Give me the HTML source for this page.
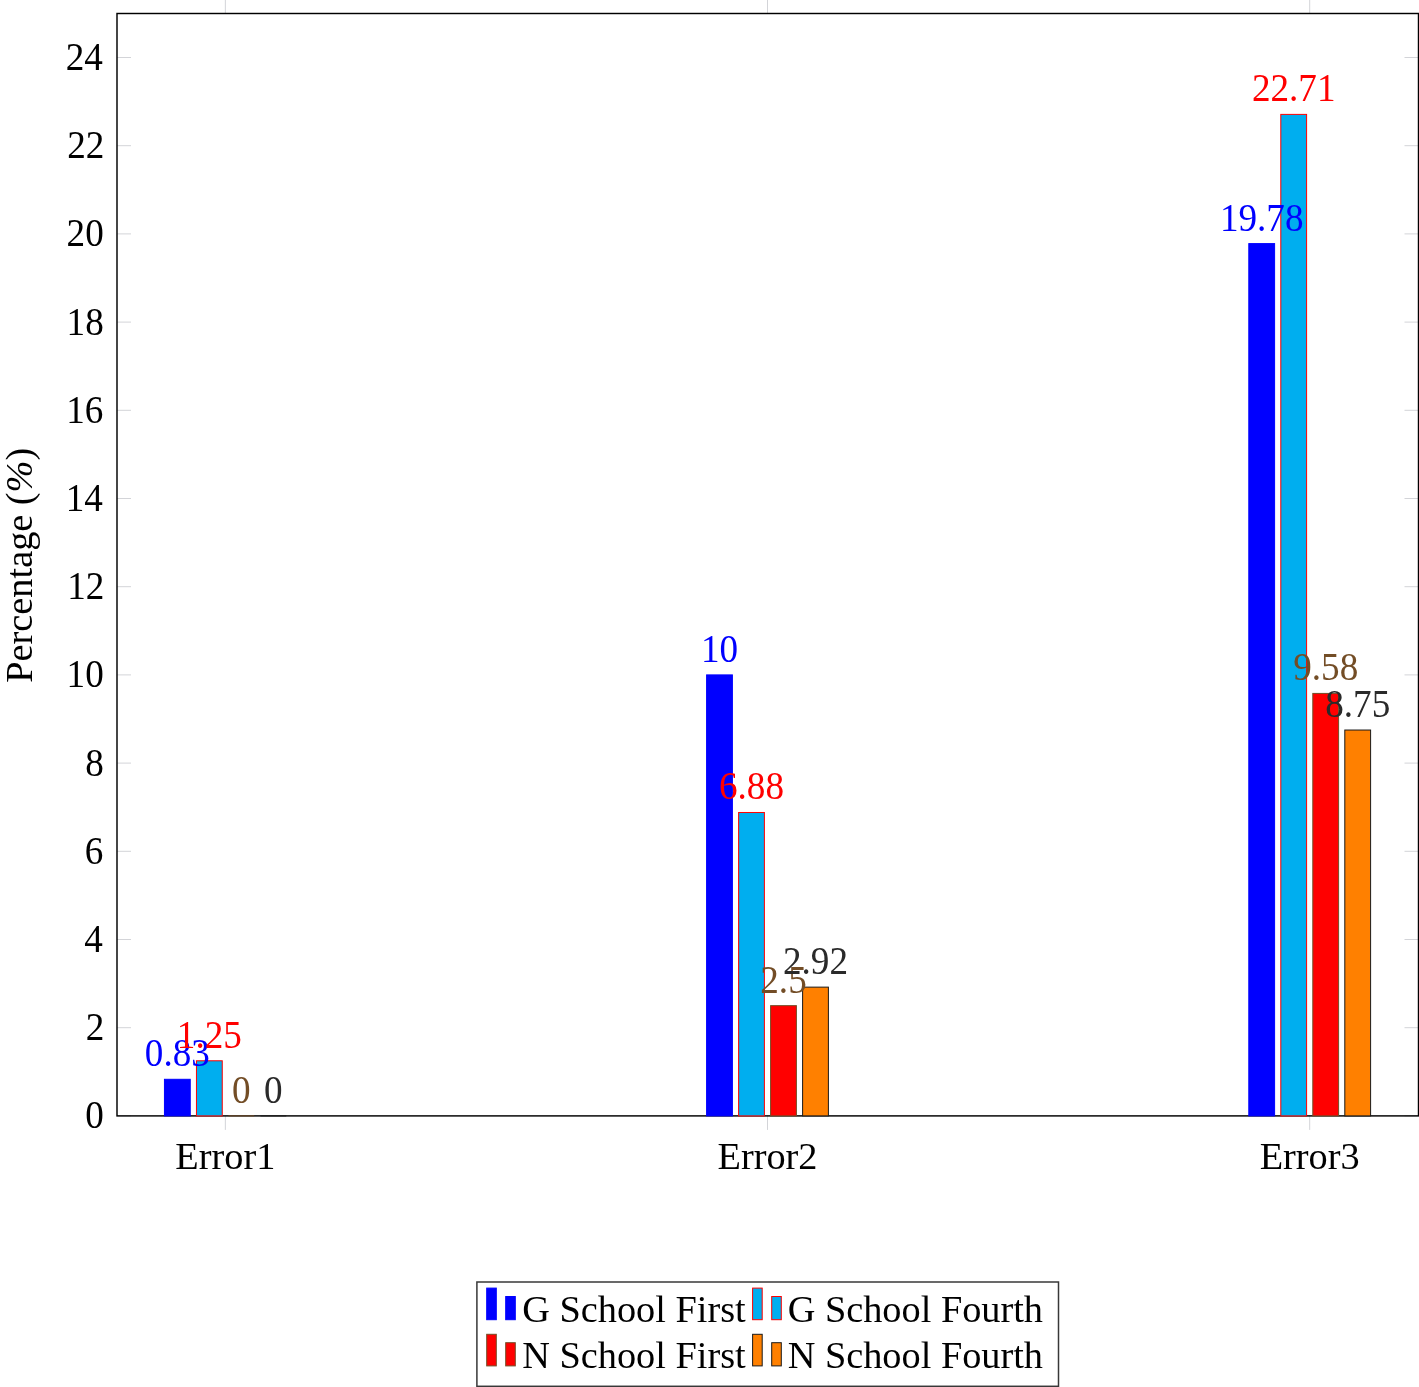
<!DOCTYPE html><html><head><meta charset="utf-8"><style>
html,body{margin:0;padding:0;background:#fff;}
svg{display:block;will-change:transform;}
text{font-family:"Liberation Serif",serif;}
.n{font-size:38.50px;}
.t{font-size:38.30px;}
</style></head><body>
<svg width="1419" height="1387" viewBox="0 0 1419 1387">
<rect width="1419" height="1387" fill="#fff"/>
<line x1="117.00" y1="1115.90" x2="131.00" y2="1115.90" stroke="#d3d4d8" stroke-width="1"/>
<line x1="1404.50" y1="1115.90" x2="1418.50" y2="1115.90" stroke="#d3d4d8" stroke-width="1"/>
<line x1="117.00" y1="1027.70" x2="131.00" y2="1027.70" stroke="#d3d4d8" stroke-width="1"/>
<line x1="1404.50" y1="1027.70" x2="1418.50" y2="1027.70" stroke="#d3d4d8" stroke-width="1"/>
<line x1="117.00" y1="939.50" x2="131.00" y2="939.50" stroke="#d3d4d8" stroke-width="1"/>
<line x1="1404.50" y1="939.50" x2="1418.50" y2="939.50" stroke="#d3d4d8" stroke-width="1"/>
<line x1="117.00" y1="851.30" x2="131.00" y2="851.30" stroke="#d3d4d8" stroke-width="1"/>
<line x1="1404.50" y1="851.30" x2="1418.50" y2="851.30" stroke="#d3d4d8" stroke-width="1"/>
<line x1="117.00" y1="763.10" x2="131.00" y2="763.10" stroke="#d3d4d8" stroke-width="1"/>
<line x1="1404.50" y1="763.10" x2="1418.50" y2="763.10" stroke="#d3d4d8" stroke-width="1"/>
<line x1="117.00" y1="674.90" x2="131.00" y2="674.90" stroke="#d3d4d8" stroke-width="1"/>
<line x1="1404.50" y1="674.90" x2="1418.50" y2="674.90" stroke="#d3d4d8" stroke-width="1"/>
<line x1="117.00" y1="586.70" x2="131.00" y2="586.70" stroke="#d3d4d8" stroke-width="1"/>
<line x1="1404.50" y1="586.70" x2="1418.50" y2="586.70" stroke="#d3d4d8" stroke-width="1"/>
<line x1="117.00" y1="498.50" x2="131.00" y2="498.50" stroke="#d3d4d8" stroke-width="1"/>
<line x1="1404.50" y1="498.50" x2="1418.50" y2="498.50" stroke="#d3d4d8" stroke-width="1"/>
<line x1="117.00" y1="410.30" x2="131.00" y2="410.30" stroke="#d3d4d8" stroke-width="1"/>
<line x1="1404.50" y1="410.30" x2="1418.50" y2="410.30" stroke="#d3d4d8" stroke-width="1"/>
<line x1="117.00" y1="322.10" x2="131.00" y2="322.10" stroke="#d3d4d8" stroke-width="1"/>
<line x1="1404.50" y1="322.10" x2="1418.50" y2="322.10" stroke="#d3d4d8" stroke-width="1"/>
<line x1="117.00" y1="233.90" x2="131.00" y2="233.90" stroke="#d3d4d8" stroke-width="1"/>
<line x1="1404.50" y1="233.90" x2="1418.50" y2="233.90" stroke="#d3d4d8" stroke-width="1"/>
<line x1="117.00" y1="145.70" x2="131.00" y2="145.70" stroke="#d3d4d8" stroke-width="1"/>
<line x1="1404.50" y1="145.70" x2="1418.50" y2="145.70" stroke="#d3d4d8" stroke-width="1"/>
<line x1="117.00" y1="57.50" x2="131.00" y2="57.50" stroke="#d3d4d8" stroke-width="1"/>
<line x1="1404.50" y1="57.50" x2="1418.50" y2="57.50" stroke="#d3d4d8" stroke-width="1"/>
<line x1="225.35" y1="0.00" x2="225.35" y2="13.50" stroke="#d3d4d8" stroke-width="1"/>
<line x1="225.35" y1="1115.90" x2="225.35" y2="1129.90" stroke="#d3d4d8" stroke-width="1"/>
<line x1="767.50" y1="0.00" x2="767.50" y2="13.50" stroke="#d3d4d8" stroke-width="1"/>
<line x1="767.50" y1="1115.90" x2="767.50" y2="1129.90" stroke="#d3d4d8" stroke-width="1"/>
<line x1="1309.70" y1="0.00" x2="1309.70" y2="13.50" stroke="#d3d4d8" stroke-width="1"/>
<line x1="1309.70" y1="1115.90" x2="1309.70" y2="1129.90" stroke="#d3d4d8" stroke-width="1"/>
<rect x="117.00" y="13.50" width="1301.50" height="1102.40" fill="none" stroke="#000" stroke-width="1.45"/>
<rect x="164.45" y="1079.30" width="25.80" height="36.60" fill="#0000ff" stroke="#0000ff" stroke-width="1.0"/>
<rect x="196.45" y="1060.78" width="25.80" height="55.12" fill="#00aeef" stroke="#ff0000" stroke-width="1.0"/>
<line x1="228.45" y1="1115.90" x2="254.25" y2="1115.90" stroke="#734d26" stroke-width="1"/>
<line x1="260.45" y1="1115.90" x2="286.25" y2="1115.90" stroke="#1a1a1a" stroke-width="1"/>
<rect x="706.60" y="674.90" width="25.80" height="441.00" fill="#0000ff" stroke="#0000ff" stroke-width="1.0"/>
<rect x="738.60" y="812.49" width="25.80" height="303.41" fill="#00aeef" stroke="#ff0000" stroke-width="1.0"/>
<rect x="770.60" y="1005.65" width="25.80" height="110.25" fill="#ff0000" stroke="#734d26" stroke-width="1.0"/>
<rect x="802.60" y="987.13" width="25.80" height="128.77" fill="#ff8000" stroke="#1a1a1a" stroke-width="1.0"/>
<rect x="1248.80" y="243.60" width="25.80" height="872.30" fill="#0000ff" stroke="#0000ff" stroke-width="1.0"/>
<rect x="1280.80" y="114.39" width="25.80" height="1001.51" fill="#00aeef" stroke="#ff0000" stroke-width="1.0"/>
<rect x="1312.80" y="693.42" width="25.80" height="422.48" fill="#ff0000" stroke="#734d26" stroke-width="1.0"/>
<rect x="1344.80" y="730.03" width="25.80" height="385.88" fill="#ff8000" stroke="#1a1a1a" stroke-width="1.0"/>
<text class="n" transform="translate(177.35,1066.20) scale(0.965,1.035)" text-anchor="middle" fill="#0000ff">0.83</text>
<text class="n" transform="translate(209.35,1047.68) scale(0.965,1.035)" text-anchor="middle" fill="#ff0000">1.25</text>
<text class="n" transform="translate(241.35,1102.80) scale(0.965,1.035)" text-anchor="middle" fill="#734d26">0</text>
<text class="n" transform="translate(273.35,1102.80) scale(0.965,1.035)" text-anchor="middle" fill="#2a2a2a">0</text>
<text class="n" transform="translate(719.50,661.80) scale(0.965,1.035)" text-anchor="middle" fill="#0000ff">10</text>
<text class="n" transform="translate(751.50,799.39) scale(0.965,1.035)" text-anchor="middle" fill="#ff0000">6.88</text>
<text class="n" transform="translate(783.50,992.55) scale(0.965,1.035)" text-anchor="middle" fill="#734d26">2.5</text>
<text class="n" transform="translate(815.50,974.03) scale(0.965,1.035)" text-anchor="middle" fill="#2a2a2a">2.92</text>
<text class="n" transform="translate(1261.70,230.50) scale(0.965,1.035)" text-anchor="middle" fill="#0000ff">19.78</text>
<text class="n" transform="translate(1293.70,101.29) scale(0.965,1.035)" text-anchor="middle" fill="#ff0000">22.71</text>
<text class="n" transform="translate(1325.70,680.32) scale(0.965,1.035)" text-anchor="middle" fill="#734d26">9.58</text>
<text class="n" transform="translate(1357.70,716.93) scale(0.965,1.035)" text-anchor="middle" fill="#2a2a2a">8.75</text>
<text class="n" transform="translate(103.71,1128.40) scale(0.965,1.035)" text-anchor="end" fill="#000">0</text>
<text class="n" transform="translate(104.34,1040.20) scale(0.965,1.035)" text-anchor="end" fill="#000">2</text>
<text class="n" transform="translate(102.89,952.00) scale(0.965,1.035)" text-anchor="end" fill="#000">4</text>
<text class="n" transform="translate(103.41,863.80) scale(0.965,1.035)" text-anchor="end" fill="#000">6</text>
<text class="n" transform="translate(103.71,775.60) scale(0.965,1.035)" text-anchor="end" fill="#000">8</text>
<text class="n" transform="translate(103.71,687.40) scale(0.965,1.035)" text-anchor="end" fill="#000">10</text>
<text class="n" transform="translate(104.34,599.20) scale(0.965,1.035)" text-anchor="end" fill="#000">12</text>
<text class="n" transform="translate(102.89,511.00) scale(0.965,1.035)" text-anchor="end" fill="#000">14</text>
<text class="n" transform="translate(103.41,422.80) scale(0.965,1.035)" text-anchor="end" fill="#000">16</text>
<text class="n" transform="translate(103.71,334.60) scale(0.965,1.035)" text-anchor="end" fill="#000">18</text>
<text class="n" transform="translate(103.71,246.40) scale(0.965,1.035)" text-anchor="end" fill="#000">20</text>
<text class="n" transform="translate(104.34,158.20) scale(0.965,1.035)" text-anchor="end" fill="#000">22</text>
<text class="n" transform="translate(102.89,70.00) scale(0.965,1.035)" text-anchor="end" fill="#000">24</text>
<text class="t" x="225.35" y="1169.20" text-anchor="middle" fill="#000">Error1</text>
<text class="t" x="767.50" y="1169.20" text-anchor="middle" fill="#000">Error2</text>
<text class="t" x="1309.70" y="1169.20" text-anchor="middle" fill="#000">Error3</text>
<text class="t" transform="translate(32.3,565.2) rotate(-90)" text-anchor="middle" fill="#000">Percentage (<tspan font-style="italic">%</tspan>)</text>
<rect x="476.90" y="1282.00" width="581.60" height="104.30" fill="#fff" stroke="#383838" stroke-width="1.5"/>
<rect x="486.70" y="1288.10" width="9.60" height="31.60" fill="#0000ff" stroke="#0000ff" stroke-width="1"/>
<rect x="505.70" y="1296.50" width="9.60" height="23.20" fill="#0000ff" stroke="#0000ff" stroke-width="1"/>
<text class="t" x="522.30" y="1322.00" fill="#000">G School First</text>
<rect x="752.60" y="1288.10" width="9.60" height="31.60" fill="#00aeef" stroke="#ff0000" stroke-width="1"/>
<rect x="771.70" y="1296.50" width="9.60" height="23.20" fill="#00aeef" stroke="#ff0000" stroke-width="1"/>
<text class="t" x="787.70" y="1322.00" fill="#000">G School Fourth</text>
<rect x="486.70" y="1334.30" width="9.60" height="31.60" fill="#ff0000" stroke="#734d26" stroke-width="1"/>
<rect x="505.70" y="1342.70" width="9.60" height="23.20" fill="#ff0000" stroke="#734d26" stroke-width="1"/>
<text class="t" x="522.30" y="1368.20" fill="#000">N School First</text>
<rect x="752.60" y="1334.30" width="9.60" height="31.60" fill="#ff8000" stroke="#1a1a1a" stroke-width="1"/>
<rect x="771.70" y="1342.70" width="9.60" height="23.20" fill="#ff8000" stroke="#1a1a1a" stroke-width="1"/>
<text class="t" x="787.70" y="1368.20" fill="#000">N School Fourth</text>
</svg></body></html>
